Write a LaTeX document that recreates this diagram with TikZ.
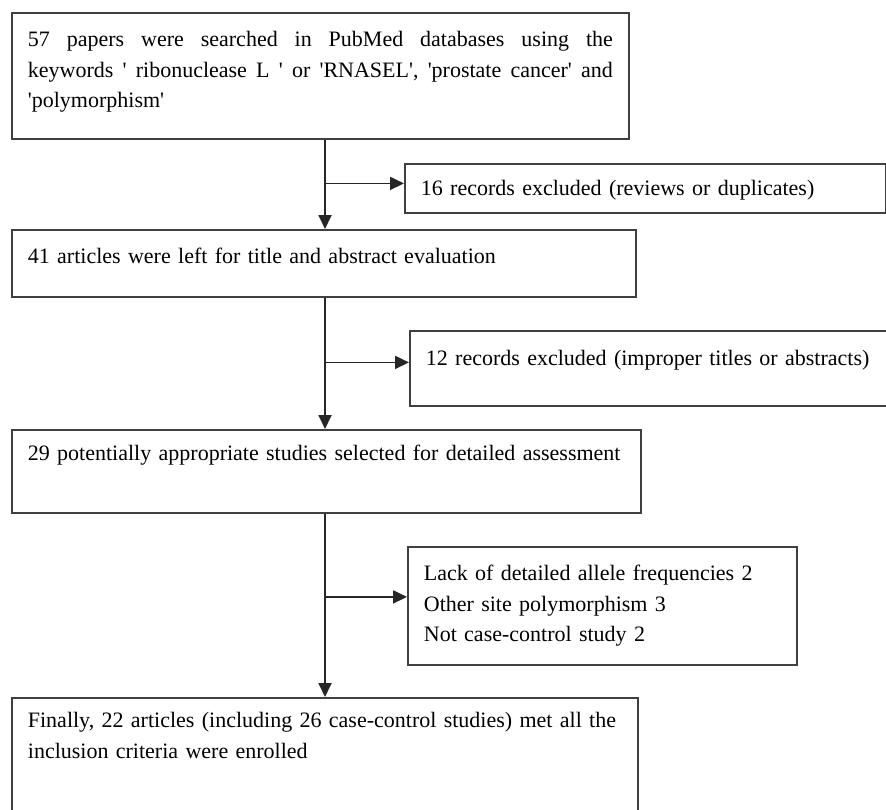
\documentclass[tikz,border=0pt]{standalone}
\usepackage{fontspec}
\setmainfont{Liberation Serif}
\usetikzlibrary{arrows.meta,positioning}

\tikzset{
  box/.style={draw=black!75, line width=1.8pt, anchor=north west, align=left,
    inner xsep=16pt, inner ysep=0pt, font=\fontsize{22}{30.5}\selectfont},
  flow/.style={draw=black!85, line width=1.8pt, -{Triangle[length=14pt,width=13pt]}},
}

\begin{document}
\begin{tikzpicture}[x=1pt,y=-1pt]
        \useasboundingbox (0,0) rectangle (886,809);

        % Main column
        \node[box, text width=585, align=justify, text height=34pt, text depth=92pt] (search) at (11,12)
            {57 papers were searched in PubMed databases using the\linebreak
             keywords \textquotesingle\ ribonuclease L \textquotesingle\ or \textquotesingle RNASEL\textquotesingle, \textquotesingle prostate cancer\textquotesingle\ and\linebreak
             \textquotesingle polymorphism\textquotesingle};
        \node[box, text width=592, text height=34pt, text depth=33pt] (titles) at (11,229)
            {41 articles were left for title and abstract evaluation};
        \node[box, text width=597, text height=31pt, text depth=52pt] (assess) at (11,429)
            {29 potentially appropriate studies selected for detailed assessment};
        \node[box, text width=594, text height=30pt, text depth=100pt] (final) at (11,697)
            {Finally, 22 articles (including 26 case-control studies) met all the\\
             inclusion criteria were enrolled};

        % Exclusions
        \node[box, text width=449, text height=32pt, text depth=17pt] (excl1) at (404,163)
            {16 records excluded (reviews or duplicates)};
        \node[box, text width=448, text height=35pt, text depth=40pt] (excl2) at (409,330)
            {12 records excluded (improper titles or abstracts)};
        \node[box, text width=357, text height=34pt, text depth=84pt] (excl3) at (407,546)
            {Lack of detailed allele frequencies 2\\
             Other site polymorphism 3\\
             Not case-control study 2};

        % Connectors
        \coordinate (spine) at (325,0);
        \draw[flow] (search.south -| spine) -- (titles.north -| spine);
        \draw[flow] (titles.south -| spine) -- (assess.north -| spine);
        \draw[flow] (assess.south -| spine) -- (final.north -| spine);

        \foreach \ex/\up in {excl1/5pt, excl2/6pt, excl3/9pt} {
            \coordinate (\ex-in) at ([yshift=\up]\ex.west);
            \draw[flow] (\ex-in -| spine) -- (\ex-in);
        }
\end{tikzpicture}
\end{document}
